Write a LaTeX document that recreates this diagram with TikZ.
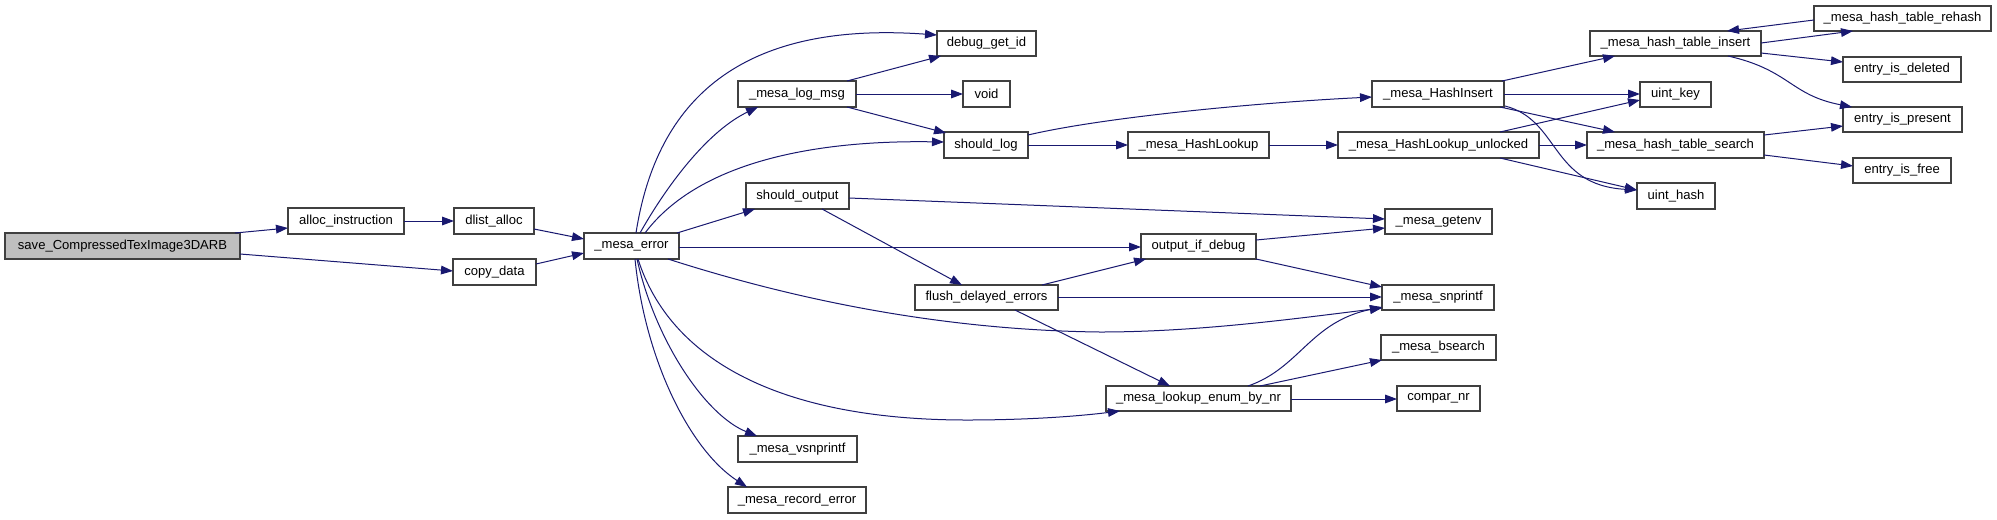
\documentclass[tikz,border=0pt]{standalone}
\usepackage{fontspec}
\setmainfont{Liberation Sans}
\usetikzlibrary{arrows.meta,calc}
\definecolor{edgec}{HTML}{191970}
\definecolor{bord}{HTML}{404040}
\definecolor{rootfill}{HTML}{BFBFBF}
\tikzset{
 gbox/.style={draw=bord,line width=0.9pt,fill=white,anchor=north west,inner sep=0pt,outer sep=0pt,font=\fontsize{9.8}{11}\selectfont},
 arr/.style={draw=edgec,line width=0.75pt,-{Triangle[length=9pt,width=6.5pt]}}
}
\newcommand\NP[3]{($(#1.north west)+(#2,#3)$)}
\newcommand\gnode[7][]{\node[gbox,#1,minimum width={(#5-#3)*0.75pt},minimum height={(#6-#4)*0.75pt}] (#2) at (#3,#4) {#7};}
\begin{document}
\begin{tikzpicture}[x=0.75pt,y=-0.75pt]
\useasboundingbox[fill=white] (0,0) rectangle (1997,519);
\gnode[fill=rootfill]{save}{5}{233}{240}{259}{save\_CompressedTexImage3DARB}
\gnode{alloc}{288}{208}{404}{234}{alloc\_instruction}
\gnode{dlist}{454}{208}{534}{234}{dlist\_alloc}
\gnode{copy}{453}{259}{536}{285}{copy\_data}
\gnode{merr}{584}{233}{679}{259}{\_mesa\_error}
\gnode{debugid}{937}{31}{1036}{56}{debug\_get\_id}
\gnode{logmsg}{738}{81}{856}{107}{\_mesa\_log\_msg}
\gnode{void}{963}{81}{1010}{107}{void}
\gnode{shouldlog}{944}{132}{1028}{158}{should\_log}
\gnode{shouldout}{746}{183}{849}{209}{should\_output}
\gnode{flush}{915}{285}{1058}{310}{flush\_delayed\_errors}
\gnode{vsn}{738}{436}{857}{462}{\_mesa\_vsnprintf}
\gnode{rec}{728}{487}{866}{513}{\_mesa\_record\_error}
\gnode{hins}{1372}{81}{1504}{107}{\_mesa\_HashInsert}
\gnode{hlook}{1128}{132}{1269}{158}{\_mesa\_HashLookup}
\gnode{hlu}{1338}{132}{1539}{158}{\_mesa\_HashLookup\_unlocked}
\gnode{getenv}{1385}{209}{1492}{234}{\_mesa\_getenv}
\gnode{oid}{1141}{234}{1256}{259}{output\_if\_debug}
\gnode{snp}{1382}{285}{1494}{310}{\_mesa\_snprintf}
\gnode{bsearch}{1381}{335}{1496}{360}{\_mesa\_bsearch}
\gnode{compar}{1397}{386}{1480}{411}{compar\_nr}
\gnode{lookup}{1106}{386}{1291}{411}{\_mesa\_lookup\_enum\_by\_nr}
\gnode{rehash}{1814}{6}{1991}{31}{\_mesa\_hash\_table\_rehash}
\gnode{tins}{1590}{31}{1761}{56}{\_mesa\_hash\_table\_insert}
\gnode{deleted}{1843}{57}{1961}{82}{entry\_is\_deleted}
\gnode{ukey}{1640}{82}{1711}{107}{uint\_key}
\gnode{present}{1843}{107}{1962}{132}{entry\_is\_present}
\gnode{tsearch}{1587}{132}{1764}{158}{\_mesa\_hash\_table\_search}
\gnode{free}{1853}{158}{1951}{183}{entry\_is\_free}
\gnode{uhash}{1637}{183}{1715}{209}{uint\_hash}
% edges
\draw[arr] \NP{save}{230}{0} -- \NP{alloc}{0}{20};
\draw[arr] \NP{save}{235}{21} -- \NP{copy}{0}{12};
\draw[arr] \NP{alloc}{116}{13} -- \NP{dlist}{0}{13};
\draw[arr] \NP{dlist}{80}{21} -- \NP{merr}{0}{6};
\draw[arr] \NP{copy}{83}{5} -- \NP{merr}{0}{20};
\draw[arr] \NP{merr}{52}{0} .. controls (655,110) and (730,20) .. \NP{debugid}{0}{4};
\draw[arr] \NP{merr}{56}{0} .. controls (670,180) and (710,130) .. \NP{logmsg}{20}{26};
\draw[arr] \NP{merr}{61}{0} .. controls (700,160) and (820,140) .. \NP{shouldlog}{0}{10};
\draw[arr] \NP{merr}{93}{0} -- \NP{shouldout}{9}{26};
\draw[arr] \NP{merr}{95}{14} -- \NP{oid}{0}{13};
\draw[arr] \NP{merr}{84}{26} .. controls (780,295) and (930,330) .. (1100,332) .. controls (1200,332) and (1300,318) .. \NP{snp}{0}{23};
\draw[arr] \NP{merr}{54}{26} .. controls (670,360) and (780,420) .. (967,420) .. controls (1030,420) and (1080,416) .. \NP{lookup}{14}{25};
\draw[arr] \NP{merr}{53}{26} .. controls (655,340) and (705,415) .. \NP{vsn}{19}{0};
\draw[arr] \NP{merr}{51}{26} .. controls (645,360) and (690,450) .. \NP{rec}{19}{0};
\draw[arr] \NP{logmsg}{109}{0} -- \NP{debugid}{4}{25};
\draw[arr] \NP{logmsg}{118}{13} -- \NP{void}{0}{13};
\draw[arr] \NP{logmsg}{109}{26} -- \NP{shouldlog}{2}{1};
\draw[arr] \NP{shouldlog}{84}{3} .. controls (1100,118) and (1250,103) .. \NP{hins}{0}{16};
\draw[arr] \NP{shouldlog}{84}{13} -- \NP{hlook}{0}{13};
\draw[arr] \NP{shouldout}{103}{15} -- \NP{getenv}{0}{10};
\draw[arr] \NP{shouldout}{76}{26} -- \NP{flush}{47}{0};
\draw[arr] \NP{flush}{127}{0} -- \NP{oid}{5}{25};
\draw[arr] \NP{flush}{143}{12} -- \NP{snp}{0}{12};
\draw[arr] \NP{flush}{100}{25} -- \NP{lookup}{64}{0};
\draw[arr] \NP{oid}{115}{6} -- \NP{getenv}{0}{19};
\draw[arr] \NP{oid}{115}{25} -- \NP{snp}{0}{2};
\draw[arr] \NP{lookup}{142}{0} .. controls (1300,368) and (1310,322) .. \NP{snp}{0}{22};
\draw[arr] \NP{lookup}{154}{0} -- \NP{bsearch}{1}{25};
\draw[arr] \NP{lookup}{185}{13} -- \NP{compar}{0}{13};
\draw[arr] \NP{hlook}{141}{13} -- \NP{hlu}{0}{13};
\draw[arr] \NP{hins}{130}{0} -- \NP{tins}{25}{25};
\draw[arr] \NP{hins}{132}{13} -- \NP{ukey}{0}{12};
\draw[arr] \NP{hins}{128}{26} -- \NP{tsearch}{28}{0};
\draw[arr] \NP{hins}{133}{25} .. controls (1560,120) and (1550,185) .. \NP{uhash}{0}{7};
\draw[arr] \NP{hlu}{162}{0} -- \NP{ukey}{0}{18};
\draw[arr] \NP{hlu}{201}{13} -- \NP{tsearch}{0}{13};
\draw[arr] \NP{hlu}{162}{26} -- \NP{uhash}{0}{7};
\draw[arr] \NP{tins}{171}{12} -- \NP{rehash}{39}{25};
\draw[arr] \NP{rehash}{0}{14} -- \NP{tins}{137}{0};
\draw[arr] \NP{tins}{171}{22} -- \NP{deleted}{0}{5};
\draw[arr] \NP{tins}{138}{25} .. controls (1790,70) and (1790,95) .. \NP{present}{9}{0};
\draw[arr] \NP{tsearch}{177}{3} -- \NP{present}{0}{19};
\draw[arr] \NP{tsearch}{177}{23} -- \NP{free}{0}{8};
\end{tikzpicture}
\end{document}
